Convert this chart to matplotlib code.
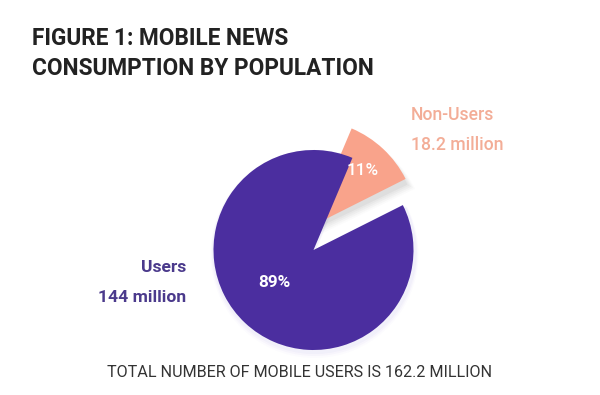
import numpy as np
import matplotlib
matplotlib.use('Agg')
import matplotlib.pyplot as plt
from matplotlib.patches import Wedge

# data
labels = ['Non-Users', 'Users']
values = [18.2, 144]
amounts = ['18.2 million', '144 million']
colors = ['#F9A38B', '#4B2E9F']
text_colors = ['#F3AD97', '#4B3A8C']

plt.rcParams['font.family'] = ['Roboto', 'DejaVu Sans']

W, H = 600, 395
fig = plt.figure(figsize=(6, 3.95), dpi=100)
ax = fig.add_axes([0, 0, 1, 1])

# pie in pixel-like coordinates (y up)
cx, cy = 313.5, H - 250
wedges, _ = ax.pie(values, colors=colors, startangle=26.7, counterclock=True,
                   center=(cx, cy), radius=100, frame=True,
                   wedgeprops=dict(linewidth=0))
ax.set_xlim(0, W)
ax.set_ylim(0, H)
ax.set_aspect('equal')
ax.axis('off')

# pull the non-users slice out and make it a bit larger
pink = wedges[0]
pink.set_center((cx - 3.5, cy + 23))
pink.set_radius(107)

# soft shadow under the pulled slice
for i, a in enumerate([0.06, 0.05, 0.04, 0.03, 0.02]):
    s = Wedge((cx - 3.5 + 1 + i, cy + 23 - 4 - 1.5 * i), 107 + i, pink.theta1 - 1, pink.theta2,
              facecolor='#555555', alpha=a, linewidth=0, zorder=pink.zorder - 0.5)
    ax.add_patch(s)
for i, a in enumerate([0.04, 0.03, 0.02]):
    s = Wedge((cx + 1, cy - 2 - i), 100 + 2 + i, wedges[1].theta1, wedges[1].theta2,
              facecolor='#6a5acd', alpha=a, linewidth=0, zorder=wedges[1].zorder - 0.5)
    ax.add_patch(s)

# percentage labels
total = sum(values)
pct_r = [0.72, 0.51]
pct_shift = [0, -7]
pct_weight = ['medium', 'bold']
for w, v, r, d, fw in zip(wedges, values, pct_r, pct_shift, pct_weight):
    mid = np.deg2rad((w.theta1 + w.theta2) / 2 + d)
    c = w.center
    ax.text(c[0] + r * w.r * np.cos(mid), c[1] + r * w.r * np.sin(mid),
            '{:.0f}%'.format(100 * v / total), color='white', fontsize=12.3,
            fontweight=fw, ha='center', va='center')

# category labels
ax.text(411, H - 120, labels[0], color=text_colors[0], fontsize=12.7,
        fontweight='medium', ha='left', va='baseline')
ax.text(411, H - 150, amounts[0], color=text_colors[0], fontsize=12.7,
        fontweight='medium', ha='left', va='baseline')
ax.text(186, H - 272, labels[1], color=text_colors[1], fontsize=12.6,
        fontweight='bold', ha='right', va='baseline')
ax.text(186, H - 302.5, amounts[1], color=text_colors[1], fontsize=12.6,
        fontweight='bold', ha='right', va='baseline')

# title and footer
fig.text(32 / W, 1 - 45 / H, 'FIGURE 1: MOBILE NEWS', color='#222222',
         fontsize=16.3, fontweight='bold', ha='left', va='baseline')
fig.text(32 / W, 1 - 75 / H, 'CONSUMPTION BY POPULATION', color='#222222',
         fontsize=16.3, fontweight='bold', ha='left', va='baseline')
fig.text(300 / W, 1 - 377 / H, 'TOTAL NUMBER OF MOBILE USERS IS 162.2 MILLION',
         color='#333333', fontsize=11.6, ha='center', va='baseline')

fig.savefig('out.png', dpi=100, facecolor='white')
